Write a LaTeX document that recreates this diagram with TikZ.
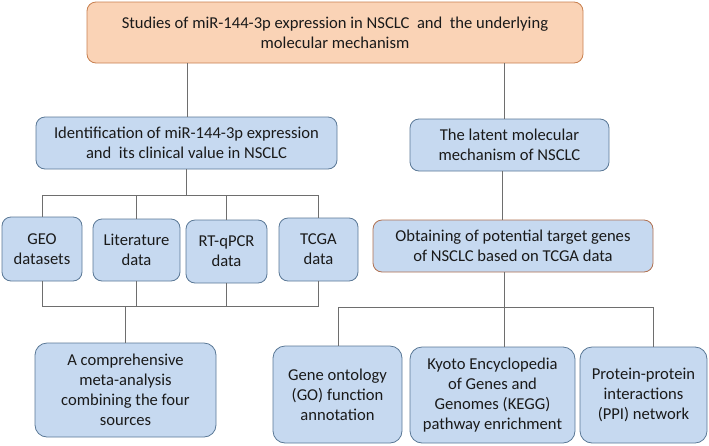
\documentclass[tikz,border=0pt]{standalone}
\usepackage{fontspec}
\setmainfont{Carlito}
\definecolor{boxblue}{HTML}{C6D9F0}
\definecolor{boxedge}{HTML}{5A7896}
\definecolor{peach}{HTML}{FAD3B6}
\definecolor{peachedge}{HTML}{C88050}
\definecolor{brownedge}{HTML}{B07050}
\definecolor{linegray}{HTML}{6E6E6E}
\definecolor{txt}{HTML}{1A1A1A}
\tikzset{
  bbox/.style={draw=boxedge, fill=boxblue, line width=0.8pt, rounded corners=9pt,
    align=center, inner sep=0pt, text=txt, font=\fontsize{16.6}{20}\selectfont},
  conn/.style={draw=linegray, line width=0.9pt},
}
\begin{document}
\begin{tikzpicture}[x=1pt,y=-1pt]
\useasboundingbox (0,0) rectangle (709,445);
% boxes
\node[bbox, fill=peach, draw=peachedge, minimum width=496pt, minimum height=61pt] (top) at (335,32.5)
  {Studies of miR-144-3p expression in NSCLC \ and \ the underlying\\molecular mechanism};
\node[bbox, minimum width=301pt, minimum height=52pt] (ident) at (186.5,143)
  {Identification of miR-144-3p expression\\and \ its clinical value in NSCLC};
\node[bbox, minimum width=199pt, minimum height=52pt] (latent) at (509.5,145)
  {The latent molecular\\mechanism of NSCLC};
\node[bbox, minimum width=80pt, minimum height=64pt] (geo) at (42,249) {GEO\\datasets};
\node[bbox, minimum width=87pt, minimum height=62pt] (lit) at (136.5,250) {Literature\\data};
\node[bbox, minimum width=81pt, minimum height=63pt] (rt) at (226.5,251.5) {RT-qPCR\\data};
\node[bbox, minimum width=79pt, minimum height=63pt] (tcga) at (318.5,249.5) {TCGA\\data};
\node[bbox, minimum width=181pt, minimum height=94pt, rounded corners=12pt] (meta) at (125.5,390)
  {A comprehensive\\meta-analysis\\combining the four\\sources};
\node[bbox, draw=brownedge, minimum width=280pt, minimum height=52pt] (obt) at (513,246)
  {Obtaining of potential target genes\\of NSCLC based on TCGA data};
\node[bbox, minimum width=129pt, minimum height=97pt, rounded corners=12pt] (gene) at (337.5,394.5)
  {Gene ontology\\(GO) function\\annotation};
\node[bbox, minimum width=165pt, minimum height=96pt, rounded corners=12pt] (kegg) at (492.5,395)
  {Kyoto Encyclopedia\\of Genes and\\Genomes (KEGG)\\pathway enrichment};
\node[bbox, minimum width=127pt, minimum height=96pt, rounded corners=12pt] (ppi) at (643.5,395)
  {Protein-protein\\interactions\\(PPI) network};
% helper coordinates
\coordinate (xl) at (187,0);
\coordinate (xr) at (504,0);
\coordinate (xo) at (502.5,0);
\coordinate (hb1) at (0,195);
\coordinate (hb2) at (0,306);
\coordinate (hb3) at (0,307);
\coordinate (xm) at (125,0);
\coordinate (xg) at (338,0);
\coordinate (xp) at (653,0);
% connectors
\draw[conn] (top.south -| xl) -- (ident.north -| xl);
\draw[conn] (top.south -| xr) -- (latent.north -| xr);
\draw[conn] (ident.south) -- (ident.south |- hb1);
\draw[conn] (geo.north) -- (geo.north |- hb1) -- (tcga.north |- hb1) -- (tcga.north);
\draw[conn] (lit.north) -- (lit.north |- hb1);
\draw[conn] (rt.north) -- (rt.north |- hb1);
\draw[conn] (geo.south) -- (geo.south |- hb2) -- (tcga.south |- hb2) -- (tcga.south);
\draw[conn] (lit.south) -- (lit.south |- hb2);
\draw[conn] (rt.south) -- (rt.south |- hb2);
\draw[conn] (meta.north -| xm) -- (hb2 -| xm);
\draw[conn] (latent.south -| xo) -- (obt.north -| xo);
\draw[conn] (obt.south -| xr) -- (kegg.north -| xr);
\draw[conn] (gene.north -| xg) -- (hb3 -| xg) -- (hb3 -| xp) -- (ppi.north -| xp);
\end{tikzpicture}
\end{document}
